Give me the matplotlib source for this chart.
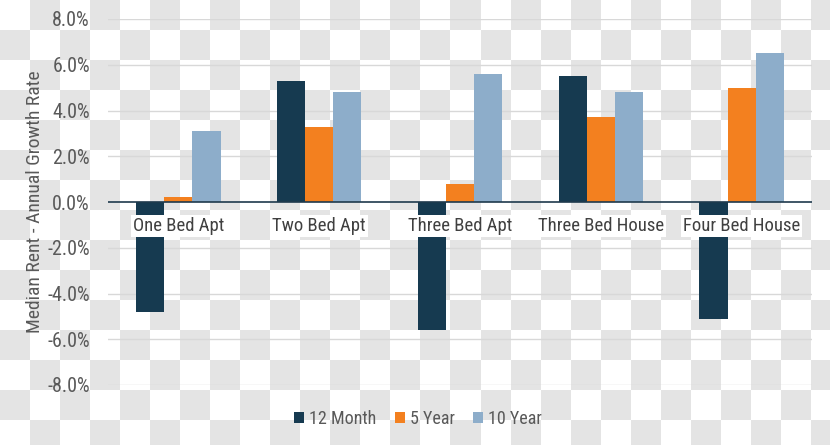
import numpy as np
import matplotlib
matplotlib.use('Agg')
import matplotlib.pyplot as plt
from matplotlib import font_manager as fm

categories = ['One Bed Apt', 'Two Bed Apt', 'Three Bed Apt', 'Three Bed House', 'Four Bed House']
series_names = ['12 Month', '5 Year', '10 Year']
month12 = [-4.8, 5.3, -5.6, 5.5, -5.1]
year5 = [0.2, 3.3, 0.8, 3.7, 5.0]
year10 = [3.1, 4.8, 5.6, 4.8, 6.5]
yticks = [-8, -6, -4, -2, 0, 2, 4, 6, 8]

colors = ['#163a50', '#f3801f', '#8dadca']

# pick a narrow font if one is there
have = {f.name for f in fm.fontManager.ttflist}
fam = 'DejaVu Sans'
for name in ['Liberation Sans Narrow', 'Roboto Condensed', 'Liberation Sans', 'Roboto']:
    if name in have:
        fam = name
        break
plt.rcParams['font.family'] = [fam, 'DejaVu Sans']

W, H = 830, 445
fig = plt.figure(figsize=(W / 100, H / 100), dpi=100)

# checkerboard background (transparency pattern)
bg = fig.add_axes([0, 0, 1, 1], zorder=-10)
sq = 30
nx, ny = W // sq + 1, H // sq + 1
board = (np.add.outer(np.arange(ny), np.arange(nx)) % 2).astype(float)
bg.imshow(board, cmap=matplotlib.colors.ListedColormap(['#ffffff', '#e4e4e4']),
          extent=[0, nx * sq, ny * sq, 0], interpolation='nearest', aspect='auto')
bg.set_xlim(0, W)
bg.set_ylim(H, 0)
bg.axis('off')

ax = fig.add_axes([108 / W, 1 - 385 / H, (812 - 108) / W, (385 - 19) / H])
ax.patch.set_alpha(0)

x = np.arange(len(categories))
w = 0.2
for i, (vals, name) in enumerate(zip([month12, year5, year10], series_names)):
    ax.bar(x + (i - 1) * w, vals, w, color=colors[i], label=name, zorder=3)

for t in yticks:
    if t != 0:
        ax.axhline(t, color='#d8d8d8', lw=1, zorder=1)
ax.axhline(0, color='#1f3a4d', lw=1.2, zorder=4)

ax.set_xlim(-0.5, len(categories) - 0.5)
ax.set_ylim(-8, 8)
ax.set_yticks(yticks)
ax.set_yticklabels(['%.1f%%' % t for t in yticks], fontsize=14.5, color='#595959')
ax.tick_params(axis='y', length=0, pad=13)
ax.set_xticks([])
for s in ax.spines.values():
    s.set_visible(False)

for i, c in enumerate(categories):
    ax.text(x[i], -1.05, c, ha='center', va='center', fontsize=13.5, color='#404040',
            zorder=5, bbox=dict(facecolor='white', edgecolor='none', pad=1.5))

fig.text(35 / W, 1 - 202 / H, 'Median Rent - Annual Growth Rate', rotation=90,
         ha='center', va='center', fontsize=14, color='#595959')

fig.legend(loc='center', bbox_to_anchor=(418 / W, 1 - 419 / H), ncol=3, frameon=False,
           fontsize=13, handlelength=0.55, handleheight=0.55, handletextpad=0.3,
           columnspacing=1.0, labelcolor='#595959')

fig.savefig('out.png', dpi=100)
print(fam)
